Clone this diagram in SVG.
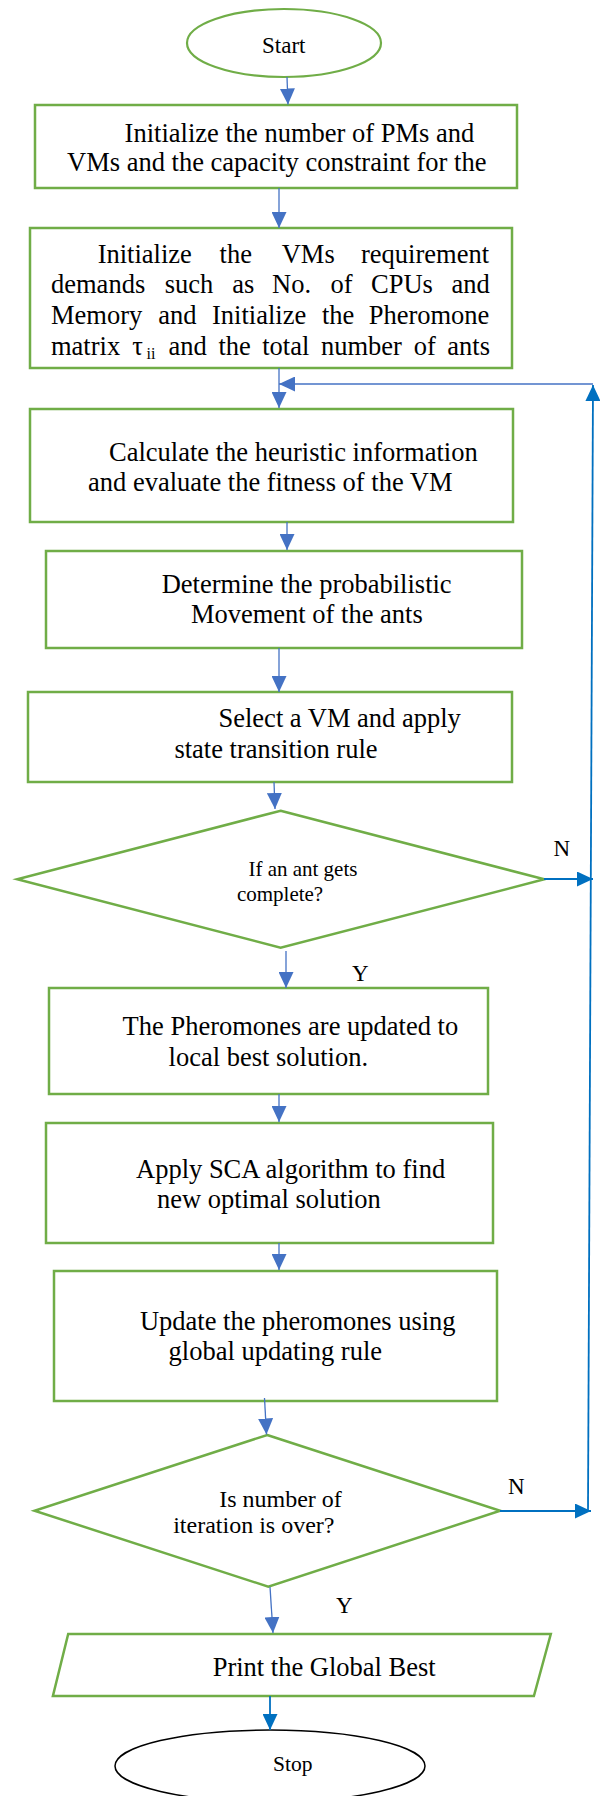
<svg xmlns="http://www.w3.org/2000/svg" width="601" height="1796" viewBox="0 0 601 1796">
<style>
.box{fill:#fff;stroke:#70AD47;stroke-width:2.5}
.term{fill:#fff;stroke:#000;stroke-width:1.5}
.t{font-family:"Liberation Serif","Times New Roman",serif;font-size:26.5px;fill:#000}
.ts{font-family:"Liberation Serif","Times New Roman",serif;fill:#000}
.c1{fill:none;stroke:#4472C4;stroke-width:1.3;marker-end:url(#a1)}
.c2{fill:none;stroke:#0070C0;stroke-width:1.8;marker-end:url(#a2)}
</style>
<defs>
<marker id="a1" markerUnits="userSpaceOnUse" markerWidth="16" markerHeight="15" refX="16" refY="7.5" orient="auto"><path d="M0,0 L16,7.5 L0,15 Z" fill="#4472C4"/></marker>
<marker id="a2" markerUnits="userSpaceOnUse" markerWidth="16" markerHeight="15" refX="16" refY="7.5" orient="auto"><path d="M0,0 L16,7.5 L0,15 Z" fill="#0070C0"/></marker>
</defs>
<rect width="601" height="1796" fill="#fff"/>

<g id="start">
<ellipse cx="284" cy="43" rx="97" ry="34" fill="#fff" stroke="#70AD47" stroke-width="2.2"/>
<text class="ts" x="262" y="53" font-size="23">Start</text>
</g>

<g id="init-pms">
<rect class="box" x="35" y="105" width="482" height="83"/>
<text class="t" x="124.6" y="141.7">Initialize the number of PMs and</text>
<text class="t" x="67" y="171">VMs and the capacity constraint for the</text>
</g>

<g id="init-vms">
<rect class="box" x="30" y="228" width="482" height="140"/>
<text class="t" y="263"><tspan x="97.7">Initialize</tspan><tspan x="219.6">the</tspan><tspan x="281.7">VMs</tspan><tspan x="361">requirement</tspan></text>
<text class="t" y="293"><tspan x="51">demands</tspan><tspan x="164.8">such</tspan><tspan x="232.3">as</tspan><tspan x="272.1">No.</tspan><tspan x="330.4">of</tspan><tspan x="371">CPUs</tspan><tspan x="451.5">and</tspan></text>
<text class="t" y="324"><tspan x="51">Memory</tspan><tspan x="158.3">and</tspan><tspan x="212">Initialize</tspan><tspan x="322">the</tspan><tspan x="368.7">Pheromone</tspan></text>
<text class="t" y="355"><tspan x="51">matrix</tspan><tspan x="132.2">τ</tspan><tspan x="146.5" font-size="16" dy="4">ii</tspan><tspan x="168.6" dy="-4">and</tspan><tspan x="218.5">the</tspan><tspan x="262.2">total</tspan><tspan x="321">number</tspan><tspan x="413.7">of</tspan><tspan x="447.3">ants</tspan></text>
</g>

<g id="heuristic">
<rect class="box" x="30" y="409" width="483" height="113"/>
<text class="t" x="109" y="460.5">Calculate the heuristic information</text>
<text class="t" x="88" y="490.7">and evaluate the fitness of the VM</text>
</g>

<g id="movement">
<rect class="box" x="46" y="551" width="476" height="97"/>
<text class="t" x="161.7" y="593.3">Determine the probabilistic</text>
<text class="t" x="190.9" y="623.3">Movement of the ants</text>
</g>

<g id="select-vm">
<rect class="box" x="28" y="692" width="484" height="90"/>
<text class="t" x="218.5" y="727.3">Select a VM and apply</text>
<text class="t" x="174.4" y="757.7">state transition rule</text>
</g>

<g id="ant-complete">
<polygon class="box" points="280.6,810.7 544.3,879.3 280.6,947.7 17.2,879.3"/>
<text class="ts" x="248.4" y="876" font-size="21">If an ant gets</text>
<text class="ts" x="236.9" y="900.7" font-size="21">complete?</text>
</g>

<g id="local-update">
<rect class="box" x="49" y="988" width="439" height="106"/>
<text class="t" x="122.6" y="1035">The Pheromones are updated to</text>
<text class="t" x="168.6" y="1065.7">local best solution.</text>
</g>

<g id="sca">
<rect class="box" x="46" y="1123" width="447" height="120"/>
<text class="t" x="136" y="1177.7">Apply SCA algorithm to find</text>
<text class="t" x="157.1" y="1208.3">new optimal solution</text>
</g>

<g id="global-update">
<rect class="box" x="54" y="1271" width="443" height="130"/>
<text class="t" x="139.9" y="1330">Update the pheromones using</text>
<text class="t" x="168.6" y="1360">global updating rule</text>
</g>

<g id="iteration-over">
<polygon class="box" points="267.2,1435 500.2,1510.7 268.3,1586.7 34.5,1510.7"/>
<text class="ts" x="219.2" y="1506.7" font-size="24">Is number of</text>
<text class="ts" x="173.2" y="1533.3" font-size="24">iteration is over?</text>
</g>

<g id="print-best">
<polygon class="box" points="68.2,1634 550.8,1634 533.9,1696 52.9,1696"/>
<text class="t" x="212.7" y="1676">Print the Global Best</text>
</g>

<g id="stop">
<ellipse class="term" cx="270" cy="1766" rx="155" ry="36"/>
<text class="ts" x="273" y="1770.7" font-size="21.5">Stop</text>
</g>

<g id="labels">
<text class="ts" x="553.5" y="855.7" font-size="23">N</text>
<text class="ts" x="352" y="980.7" font-size="23">Y</text>
<text class="ts" x="508" y="1494.3" font-size="23">N</text>
<text class="ts" x="336" y="1612.7" font-size="23">Y</text>
</g>

<g id="connectors">
<path class="c1" d="M287,77 L288,104.5"/>
<path class="c1" d="M279,188 L279,228"/>
<path class="c1" d="M279,368 L279,408"/>
<path class="c1" d="M593,384 L279,384"/>
<path class="c1" d="M287,522 L287,550"/>
<path class="c1" d="M279,648 L279,692"/>
<path class="c1" d="M274,782 L275,809"/>
<path class="c1" d="M286,951 L286,988"/>
<path class="c2" d="M544,879 L593,879"/>
<path class="c1" d="M279,1094 L279,1122"/>
<path class="c1" d="M279,1243 L279,1270"/>
<path class="c1" d="M264.5,1398 L266.5,1434.5"/>
<path class="c2" d="M500,1511 L591,1511"/>
<path class="c2" d="M588,1511 L593,385"/>
<path class="c1" d="M270,1587 L273,1633"/>
<path class="c2" d="M270,1696 L270,1730"/>
</g>
</svg>
